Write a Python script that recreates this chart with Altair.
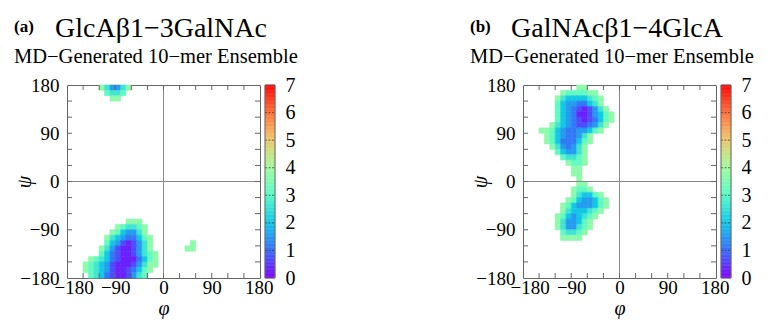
import altair as alt
import numpy as np
import pandas as pd

# ---------------- data ----------------
PHI_TICKS = [-180, -90, 0, 90, 180]
PSI_TICKS = [-180, -90, 0, 90, 180]
MINOR_TICKS = [-150, -120, -90, -60, -30, 0, 30, 60, 90, 120, 150]
CB_TICKS = [0, 1, 2, 3, 4, 5, 6, 7]
CB_DASHES = [1, 2, 3, 4, 5, 6]
ZERO = [0]
CELL = 10  # degrees per map cell

# free-energy level (kcal/mol) of each map character
LEVEL = {"0": 0.3, "1": 0.7, "2": 1.1, "3": 1.5, "4": 2.0, "5": 2.6, "6": 3.1, "7": 3.7}

# rainbow palette for 0..7
RAINBOW = ["#8000ff", "#376ff9", "#12c8e6", "#5bfac7", "#a4fa9f", "#edc86f", "#ff6f39", "#ff0000"]

# map rows: (row from top (psi 180 downwards), first column (phi -180 rightwards), levels)
MAP_A = [
    (0, 6, "753357"),
    (1, 7, "6556"),
    (2, 8, "77"),
    (25, 11, "777"),
    (26, 9, "765567"),
    (27, 8, "7643357"),
    (28, 7, "754322467"),
    (29, 7, "643101357"),
    (29, 23, "7"),
    (30, 6, "7531001357"),
    (30, 22, "77"),
    (31, 6, "64210013567"),
    (32, 4, "7654210002467"),
    (33, 3, "76543100013577"),
    (34, 3, "7654310012467"),
    (35, 4, "65421001356"),
]

MAP_B = [
    (0, 10, "77"),
    (1, 7, "7666677"),
    (2, 6, "754444567"),
    (3, 6, "643322457"),
    (4, 6, "6432101357"),
    (5, 6, "64320013467"),
    (6, 6, "64321012467"),
    (7, 5, "75432112357"),
    (8, 3, "776432233467"),
    (9, 4, "764322357"),
    (10, 4, "764222467"),
    (11, 5, "7532357"),
    (12, 6, "643357"),
    (13, 7, "65567"),
    (14, 8, "7667"),
    (15, 9, "77"),
    (16, 9, "77"),
    (17, 10, "7"),
    (18, 10, "77"),
    (19, 9, "7667"),
    (20, 9, "754467"),
    (21, 8, "76433467"),
    (22, 7, "764333467"),
    (23, 7, "75444567"),
    (24, 6, "76434567"),
    (25, 6, "7533467"),
    (26, 6, "7533567"),
    (27, 7, "65567"),
    (28, 7, "7777"),
]

PANELS = [
    ("(a)", "GlcAβ1−3GalNAc", "MD−Generated 10−mer Ensemble", MAP_A),
    ("(b)", "GalNAcβ1−4GlcA", "MD−Generated 10−mer Ensemble", MAP_B),
]

FONT = "Liberation Serif"
W = H = 193
CB_X0, CB_X1 = W + 5, W + 15


def build(rows):
    recs = []
    for j, i0, s in rows:
        for k, ch in enumerate(s):
            if ch == ".":
                continue
            i = i0 + k
            phi0 = -180 + CELL * i
            psi1 = 180 - CELL * j
            recs.append(dict(phi0=phi0, phi1=phi0 + CELL, psi0=psi1 - CELL, psi1=psi1, E=LEVEL[ch]))
    return pd.DataFrame(recs)


cb_edges = np.linspace(0, 7, 141)
CB_DF = pd.DataFrame({"v0": cb_edges[:-1], "v1": cb_edges[1:]})


def panel(tag, title, subtitle, rows):
    df = build(rows)
    xs = alt.Scale(domain=[-180, 180], nice=False, zero=False)
    ys = alt.Scale(domain=[-180, 180], nice=False, zero=False)
    cs = alt.Scale(domain=[0, 7], range=RAINBOW, interpolate="rgb")
    cbs = alt.Scale(domain=[0, 7], nice=False, zero=False)
    xaxis = alt.Axis(values=PHI_TICKS, labelPadding=0, titlePadding=1,
                     labelFlush=True, labelFlushOffset=13, labelOverlap=False)
    yaxis = alt.Axis(values=PSI_TICKS, labelPadding=8, titlePadding=-15,
                     labelFlush=False, labelOverlap=False)
    cbaxis = alt.Axis(orient="right", values=CB_TICKS, offset=15, labelPadding=10,
                      labelFontSize=20, labelFlush=False, labelOverlap=False)

    def X(f):
        return alt.X(f, scale=xs, axis=xaxis, title="φ")

    def Y(f):
        return alt.Y(f, scale=ys, axis=yaxis, title="ψ")

    heat = alt.Chart(df).mark_rect().encode(
        x=X("phi0:Q"), x2="phi1:Q", y=Y("psi0:Q"), y2="psi1:Q",
        color=alt.Color("E:Q", scale=cs, legend=None),
    )
    edge = alt.Chart(df).mark_rect(filled=False, strokeWidth=0.6).encode(
        x=X("phi0:Q"), x2="phi1:Q", y=Y("psi0:Q"), y2="psi1:Q",
        color=alt.Color("E:Q", scale=cs, legend=None),
    )

    zdf = pd.DataFrame({"v": ZERO})
    vline = alt.Chart(zdf).mark_rule(color="#8a8a8a", strokeWidth=1).encode(x=X("v:Q"))
    hline = alt.Chart(zdf).mark_rule(color="#8a8a8a", strokeWidth=1).encode(y=Y("v:Q"))

    tdf = pd.DataFrame({"t": MINOR_TICKS})
    tk = dict(color="#666", strokeWidth=1)
    top = alt.Chart(tdf).mark_rule(**tk).encode(x=X("t:Q"), y=alt.value(0), y2=alt.value(5))
    bot = alt.Chart(tdf).mark_rule(**tk).encode(x=X("t:Q"), y=alt.value(H - 5), y2=alt.value(H))
    left = alt.Chart(tdf).mark_rule(**tk).encode(y=Y("t:Q"), x=alt.value(0), x2=alt.value(5))
    right = alt.Chart(tdf).mark_rule(**tk).encode(y=Y("t:Q"), x=alt.value(W - 5), x2=alt.value(W))

    t_tag = alt.Chart(pd.DataFrame({"t": [tag]})).mark_text(
        align="left", baseline="alphabetic", font=FONT, fontSize=17, fontWeight="bold", color="black"
    ).encode(text="t:N", x=alt.value(-53), y=alt.value(-53))
    t_title = alt.Chart(pd.DataFrame({"t": [title]})).mark_text(
        align="left", baseline="alphabetic", font=FONT, fontSize=28, color="black"
    ).encode(text="t:N", x=alt.value(-12), y=alt.value(-48))
    t_sub = alt.Chart(pd.DataFrame({"t": [subtitle]})).mark_text(
        align="left", baseline="alphabetic", font=FONT, fontSize=20.5, color="black"
    ).encode(text="t:N", x=alt.value(-53), y=alt.value(-22))

    inner = alt.layer(heat, edge, vline, hline, top, bot, left, right, t_tag, t_title, t_sub)

    # colour bar
    cbar = alt.Chart(CB_DF).mark_rect(strokeWidth=0.5).encode(
        y=alt.Y("v0:Q", scale=cbs, title=None, axis=cbaxis),
        y2="v1:Q",
        x=alt.value(CB_X0),
        x2=alt.value(CB_X1),
        color=alt.Color("v0:Q", scale=cs, legend=None),
        stroke=alt.Stroke("v0:Q", scale=cs, legend=None),
    )
    cdash = alt.Chart(pd.DataFrame({"c": CB_DASHES})).mark_rule(
        color="#333", strokeWidth=1, strokeDash=[2, 1.5], opacity=0.7
    ).encode(
        y=alt.Y("c:Q", scale=cbs, title=None, axis=cbaxis),
        x=alt.value(CB_X0),
        x2=alt.value(CB_X1),
    )
    cframe = alt.Chart(pd.DataFrame({"c": [0]})).mark_rect(
        filled=False, stroke="#666", strokeWidth=1
    ).encode(x=alt.value(CB_X0), x2=alt.value(CB_X1), y=alt.value(0), y2=alt.value(H))
    cb = alt.layer(cbar, cdash, cframe)

    return alt.layer(inner, cb).resolve_scale(y="independent", stroke="independent").properties(
        width=W, height=H
    )


charts = [panel(*p) for p in PANELS]

chart = (
    alt.hconcat(*charts, spacing=170)
    .properties(padding={"left": 5, "top": 6, "right": 0, "bottom": 0})
    .configure(font=FONT)
    .configure_view(stroke="#666", strokeWidth=1)
    .configure_axis(
        labelFont=FONT,
        labelFontSize=19,
        labelColor="black",
        ticks=False,
        domain=False,
        grid=False,
        titleFont=FONT,
        titleFontSize=20,
        titleFontStyle="italic",
        titleFontWeight="normal",
        titleColor="black",
    )
)

chart.save("out.html", embed_options={"renderer": "svg", "actions": False})
